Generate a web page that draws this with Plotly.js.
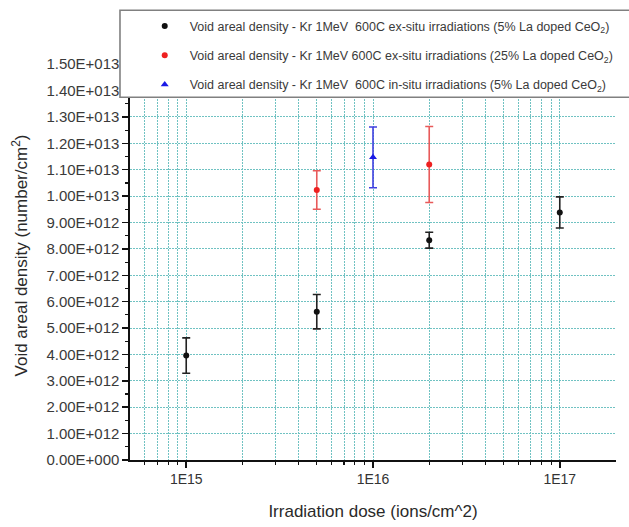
<!DOCTYPE html>
<html>
<head>
<meta charset="utf-8">
<script src="https://cdn.plot.ly/plotly-3.0.1.min.js"></script>
<style>
  html, body { margin: 0; padding: 0; background: #ffffff; }
  #chart { width: 629px; height: 527px; }
</style>
</head>
<body>
<div id="chart"></div>
<script>
// Kr 1 MeV, 600C irradiations: ex-situ, 5% La doped CeO2
const doseExSitu5 = [1e15, 5e15, 2e16, 1e17];
const densityExSitu5 = [3.96e12, 5.62e12, 8.33e12, 9.38e12];
const errorExSitu5 = [0.67e12, 0.65e12, 0.30e12, 0.59e12];

// Kr 1 MeV, 600C irradiations: ex-situ, 25% La doped CeO2
const doseExSitu25 = [5e15, 2e16];
const densityExSitu25 = [1.023e13, 1.120e13];
const errorExSitu25 = [0.073e13, 0.144e13];

// Kr 1 MeV, 600C irradiations: in-situ, 5% La doped CeO2
const doseInSitu5 = [1e16];
const densityInSitu5 = [1.147e13];
const errorInSitu5 = [0.115e13];

const seriesNames = [
  'Void areal density - Kr 1MeV  600C ex-situ irradiations (5% La doped CeO<sub>2</sub>)',
  'Void areal density - Kr 1MeV 600C ex-situ irradiations (25% La doped CeO<sub>2</sub>)',
  'Void areal density - Kr 1MeV  600C in-situ irradiations (5% La doped CeO<sub>2</sub>)'
];

// Axis ticks
const xTickVals = [1e15, 1e16, 1e17];
const xTickText = ['1E15', '1E16', '1E17'];
const xMinorVals = [6e14, 7e14, 8e14, 9e14,
                    2e15, 3e15, 4e15, 5e15, 6e15, 7e15, 8e15, 9e15,
                    2e16, 3e16, 4e16, 5e16, 6e16, 7e16, 8e16, 9e16];
const yTickVals = [0, 1e12, 2e12, 3e12, 4e12, 5e12, 6e12, 7e12, 8e12, 9e12,
                   1e13, 1.1e13, 1.2e13, 1.3e13, 1.4e13, 1.5e13];
const yTickText = ['0.00E+000', '1.00E+012', '2.00E+012', '3.00E+012', '4.00E+012',
                   '5.00E+012', '6.00E+012', '7.00E+012', '8.00E+012', '9.00E+012',
                   '1.00E+013', '1.10E+013', '1.20E+013', '1.30E+013', '1.40E+013',
                   '1.50E+013'];

const gridColor = '#70c2c2';

function series(x, y, err, name, color, barColor, symbol, size, group) {
  return {
    type: 'scatter', mode: 'markers', x: x, y: y, name: name,
    legendgroup: group,
    marker: { color: color, symbol: symbol, size: size },
    error_y: { type: 'data', array: err, visible: true, color: barColor,
               thickness: 1.6, width: 4 },
    cliponaxis: false
  };
}

const traces = [
  series(doseExSitu5, densityExSitu5, errorExSitu5, seriesNames[0], '#111111', '#222222', 'circle', 6, 'a'),
  series(doseExSitu25, densityExSitu25, errorExSitu25, seriesNames[1], '#ee2020', '#e85a5a', 'circle', 6, 'b'),
  series(doseInSitu5, densityInSitu5, errorInSitu5, seriesNames[2], '#1a1ae6', '#4040e0', 'triangle-up', 7, 'c')
];

const layout = {
  width: 629, height: 527,
  margin: { l: 130, r: 13, t: 51, b: 67, autoexpand: false },
  paper_bgcolor: '#ffffff', plot_bgcolor: '#ffffff',
  font: { family: 'Liberation Sans, Arial, sans-serif', color: '#333333' },
  showlegend: true,
  legend: {
    x: 0.02, xanchor: 'left', y: 1.097, yanchor: 'top',
    bgcolor: 'rgba(0,0,0,0)', borderwidth: 0,
    font: { size: 12.5, color: '#3a3a3a' },
    traceorder: 'grouped', tracegroupgap: 10, itemwidth: 40
  },
  xaxis: {
    type: 'log',
    range: [Math.log10(5e14), Math.log10(2e17)],
    tickmode: 'array', tickvals: xTickVals, ticktext: xTickText,
    ticks: 'outside', ticklen: 6, tickwidth: 1.5, tickcolor: '#111',
    tickfont: { size: 14, color: '#333333' },
    showline: true, linecolor: '#111', linewidth: 1.6,
    showgrid: true, gridcolor: gridColor, gridwidth: 1, griddash: '2px,1px',
    zeroline: false,
    minor: { tickmode: 'array', tickvals: xMinorVals, ticks: 'outside', ticklen: 3,
             tickwidth: 1.2, tickcolor: '#111',
             showgrid: true, gridcolor: gridColor, gridwidth: 1, griddash: '2px,1px' },
    title: { text: 'Irradiation dose (ions/cm^2)', font: { size: 17, color: '#2a2a2a' }, standoff: 18 }
  },
  yaxis: {
    range: [0, 1.55e13],
    tickmode: 'array', tickvals: yTickVals, ticktext: yTickText,
    ticks: 'outside', ticklen: 6, tickwidth: 1.5, tickcolor: '#111',
    tickfont: { size: 15, color: '#3a3a3a' },
    showline: true, linecolor: '#111', linewidth: 1.6,
    showgrid: true, gridcolor: gridColor, gridwidth: 1, griddash: '2px,1px',
    zeroline: false,
    minor: { dtick: 5e11, ticks: 'outside', ticklen: 3, tickwidth: 1.2, tickcolor: '#111', showgrid: false },
    title: { text: 'Void areal density (number/cm<sup>2</sup>)', font: { size: 17, color: '#2a2a2a' }, standoff: 14 }
  },
  shapes: [
    {
      type: 'rect', xref: 'paper', yref: 'paper', layer: 'above',
      x0: -0.0206, x1: 1.06, y0: 0.887, y1: 1.0997,
      fillcolor: '#ffffff', line: { color: '#808080', width: 1.6 }
    }
  ]
};

Plotly.newPlot('chart', traces, layout, { displayModeBar: false, staticPlot: true });
</script>
</body>
</html>
